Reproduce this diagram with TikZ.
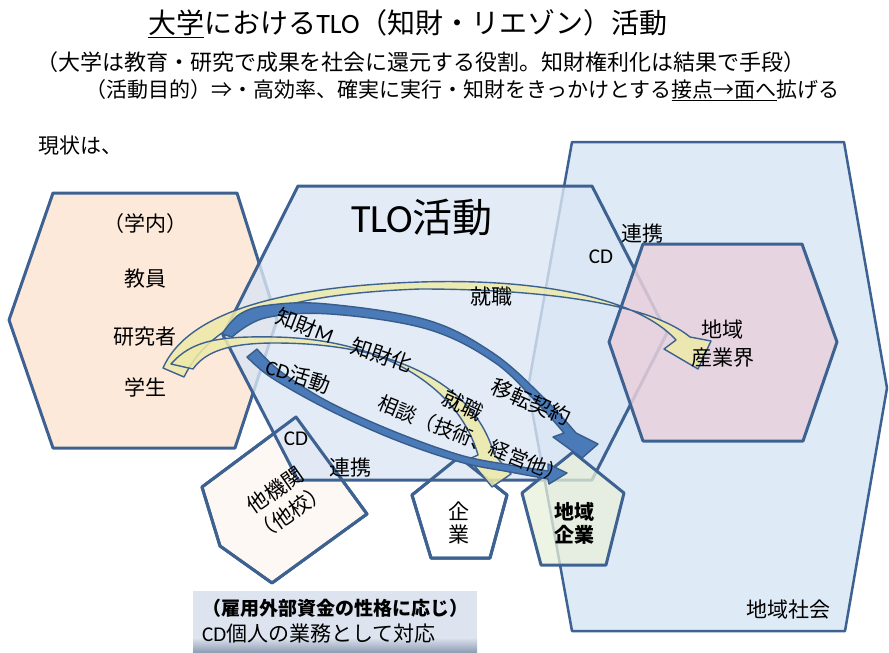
\documentclass[tikz,border=0pt]{standalone}
\usepackage{fontspec}
\setmainfont{Noto Sans CJK JP}
\newfontfamily\lat{Carlito}
\newcommand\fsz[1]{\fontsize{#1}{#1}\selectfont}
\definecolor{edgeblue}{RGB}{61,98,145}
\definecolor{peach}{RGB}{252,233,218}
\definecolor{tlo}{RGB}{219,230,244}
\definecolor{society}{RGB}{222,235,247}
\definecolor{pinkfill}{RGB}{232,208,220}
\definecolor{otherfill}{RGB}{254,248,244}
\definecolor{greenfill}{RGB}{232,240,218}
\definecolor{arrowblue}{RGB}{74,122,184}
\definecolor{arrowedge}{RGB}{56,93,138}
\definecolor{yellowfill}{RGB}{238,234,168}
\definecolor{boxtop}{RGB}{221,228,240}
\definecolor{boxbot}{RGB}{138,153,176}
\tikzset{
  region/.style={draw=edgeblue, line width=3pt, line join=round},
  yarrow/.style={draw=edgeblue, line width=1.4pt, fill=yellowfill, fill opacity=0.85, line join=round},
  barrow/.style={draw=arrowedge, line width=1.4pt, fill=arrowblue, line join=round},
  lbl/.style={inner sep=0pt, font=\fsz{21}},
}
\begin{document}
\begin{tikzpicture}[x=1pt,y=-1pt]
\useasboundingbox (0,0) rectangle (889,653);
% regional society
\draw[region, line width=2.5pt, fill=society] (572,142) -- (844,142) -- (887,388) -- (845,631) -- (572,631) -- (528,388) -- cycle;
% campus hexagon
\draw[region, fill=peach] (53,193) -- (237,193) -- (277,320) -- (235,448) -- (53,448) -- (9,320) -- cycle;
% other institutions
\draw[region, fill=otherfill] (296,417) -- (367,514) -- (272,583) -- (220,546) -- (202,487) -- cycle;
% company
\draw[region, fill=white] (459,457) -- (507,495) -- (490,558) -- (431,558) -- (412,495) -- cycle;
% TLO hexagon
\draw[region, fill=tlo, fill opacity=0.8] (298,186) -- (592,186) -- (667,333) -- (592,480) -- (298,480) -- (223,335) -- cycle;
% regional industry
\draw[region, fill=pinkfill, fill opacity=0.85] (643,244) -- (802,244) -- (837,342) -- (803,441) -- (643,441) -- (609,342) -- cycle;
% regional company
\draw[region, fill=greenfill, fill opacity=0.75] (573,452) -- (624,493) -- (606,565) -- (541,565) -- (522,493) -- cycle;
% borders visible through TLO
\draw[region] (296,417) -- (367,514) -- (272,583) -- (220,546) -- (202,487) -- cycle;
\draw[region] (459,457) -- (507,495) -- (490,558) -- (431,558) -- (412,495) -- cycle;
% bottom box
\fill[boxtop] (193,591) rectangle (477,638);
\shade[top color=boxtop, bottom color=boxbot] (193,637.5) rectangle (477,653);

% yellow arrow to regional industry
\filldraw[yarrow] (163,368) .. controls (185,318) and (265,287) .. (420,282) .. controls (545,278) and (640,300) .. (676,340) -- (664,349) -- (698,369) -- (711,341) -- (690,337) .. controls (650,304) and (545,289) .. (420,289) .. controls (280,294) and (212,320) .. (184,377) -- cycle;
% yellow arrow to company
\filldraw[yarrow] (171,364) .. controls (192,340) and (220,336) .. (275,337) .. controls (380,339) and (458,385) .. (478,455) -- (469,459) -- (492,487) -- (511,474) -- (494,454) .. controls (474,382) and (390,343) .. (275,343) .. controls (228,343) and (205,352) .. (193,369) -- cycle;
% blue arrow IP
\filldraw[barrow] plot[smooth, tension=0.6] coordinates {(222,334) (240,314) (270,305) (327,304) (427,320) (493,353) (543,397) (576,433)} -- (598,444) -- (582,458) -- (553,437) -- plot[smooth, tension=0.6] coordinates {(564,433) (538,404) (494,362) (427,329) (330,314) (265,318) (232,337)} -- cycle;
% blue arrow CD
\filldraw[barrow] plot[smooth, tension=0.6] coordinates {(257,349) (280,371) (327,401) (393,431) (460,455) (510,465) (548,471)} -- (548,464) -- (567,473) -- (549,484) -- plot[smooth, tension=0.6] coordinates {(548,479) (510,472) (460,462) (393,439) (327,409) (272,378) (247,357)} -- cycle;

% texts
\node[inner sep=0pt, font=\fsz{28}] (title) at (408,24) {\underline{大学}における{\lat TLO}（知財・リエゾン）活動};
\node[inner sep=0pt, font=\fsz{22}] (sub1) at (421,62) {（大学は教育・研究で成果を社会に還元する役割。知財権利化は結果で手段）};
\node[inner sep=0pt, font=\fsz{21}, anchor=west] (sub2) at (85,90) {（活動目的）⇒・高効率、確実に実行・知財をきっかけとする\underline{接点→面へ}拡げる};
\node[lbl] (genjo) at (80,146) {現状は、};
\node[lbl] (gakunai) at (145,224) {（学内）};
\node[lbl] (kyoin) at (145,279) {教員};
\node[lbl] (kenkyu) at (145,337) {研究者};
\node[lbl] (gakusei) at (145,387) {学生};
\node[inner sep=0pt, font=\fsz{40}] (tlo) at (422,217) {{\lat TLO}活動};
\node[lbl] (renkei1) at (642,234) {連携};
\node[lbl, font=\fsz{21}\lat] (cd1) at (601,257) {CD};
\node[lbl] (shushoku1) at (491,297) {就職};
\node[lbl] (chiiki1) at (722,330) {地域};
\node[lbl] (sangyo) at (723,358) {産業界};
\node[lbl, rotate=-21] (chizaiM) at (305,326) {知財{\lat M}};
\node[lbl, rotate=-19] (chizaika) at (382,355) {知財化};
\node[lbl, rotate=-18] (cdkatsu) at (298,376) {{\lat CD}活動};
\node[lbl, rotate=-22, font=\fsz{20}] (sodan) at (472,439) {相談（技術、経営他）};
\node[lbl, rotate=-25] (shushoku2) at (463,405) {就職};
\node[lbl, rotate=-23] (iten) at (531,402) {移転契約};
\node[lbl, font=\fsz{21}\lat] (cd2) at (296,439) {CD};
\node[lbl] (renkei2) at (350,468) {連携};
\node[lbl, rotate=35, align=center, font=\fsz{21}] (takikan) at (283,501) {他機関\\[6pt]（他校）};
\node[lbl] (ki) at (459,511) {企};
\node[lbl] (gyo) at (459,535) {業};
\node[lbl, font=\fsz{20}\bfseries] (chiiki2) at (574,512) {地域};
\node[lbl, font=\fsz{20}\bfseries] (kigyo2) at (574,535) {企業};
\node[lbl] (shakai) at (788,610) {地域社会};
\node[inner sep=0pt, font=\fsz{19}\bfseries] (boxl1) at (335,608) {（雇用外部資金の性格に応じ）};
\node[inner sep=0pt, font=\fsz{21}, anchor=west] (boxl2) at (202,634) {{\lat CD}個人の業務として対応};
\end{tikzpicture}
\end{document}
